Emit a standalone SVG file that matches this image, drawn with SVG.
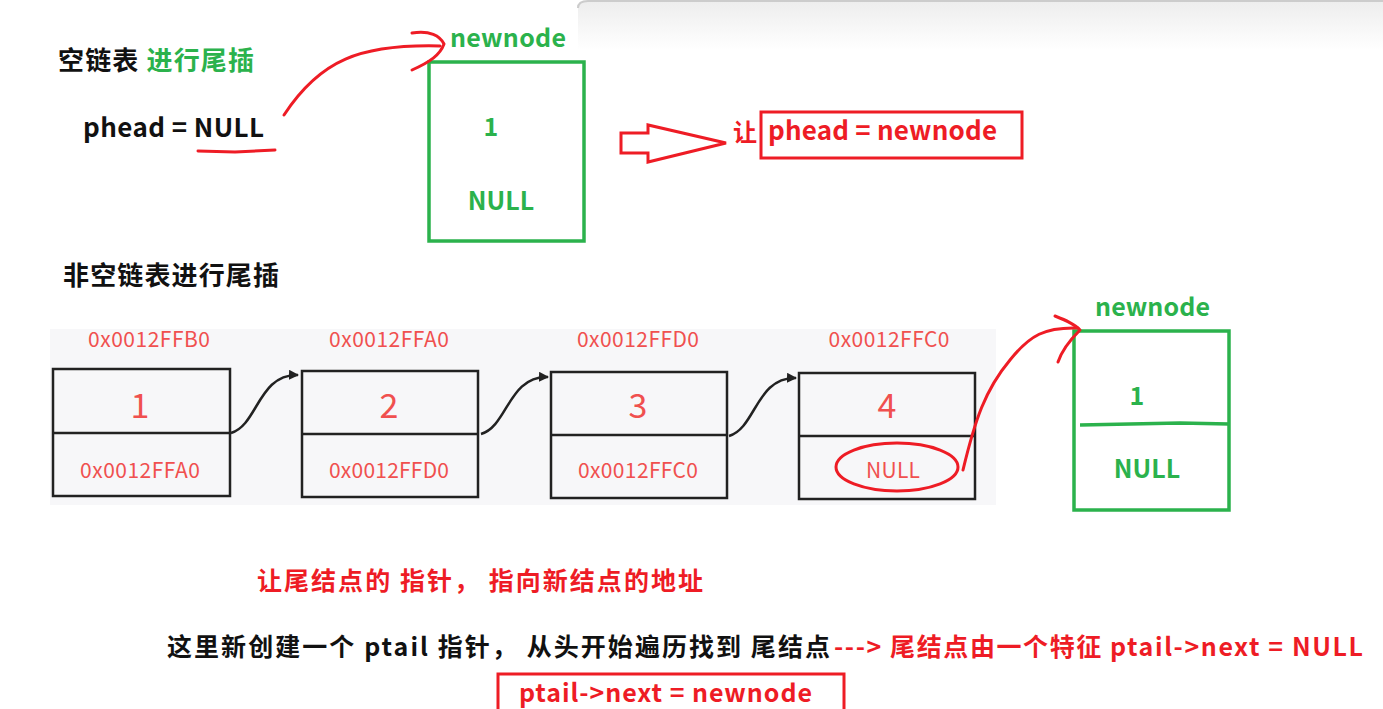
<svg xmlns="http://www.w3.org/2000/svg" width="1383" height="709" viewBox="0 0 1383 709">
<style>
.cjk{font-family:"Noto Sans CJK SC","Noto Sans",sans-serif;font-weight:bold}
.blk{fill:#111}
.grn{fill:#2bb24c}
.red{fill:#ee1c25}
.addr{font-family:"Noto Sans CJK SC","Noto Sans",sans-serif;font-size:21px;fill:#f0504f;text-anchor:middle}
.val{font-family:"Noto Sans CJK SC","Noto Sans",sans-serif;font-size:34px;fill:#f0504f;text-anchor:middle}
.node{fill:none;stroke:#222;stroke-width:2.5}
.gbox{fill:none;stroke:#2bb24c;stroke-width:3.5}
.rline{fill:none;stroke:#ee1c25;stroke-width:3;stroke-linecap:round;stroke-linejoin:round}
.bline{fill:none;stroke:#222;stroke-width:2.5}
</style>
<defs>
<marker id="ah" viewBox="0 0 10 10" refX="9" refY="5" markerWidth="4" markerHeight="4" orient="auto"><path d="M0,0 L10,5 L0,10 z" fill="#222"/></marker>
<linearGradient id="topg" x1="0" y1="0" x2="0" y2="1"><stop offset="0" stop-color="#ededed"/><stop offset="1" stop-color="#ffffff"/></linearGradient>
</defs>
<rect width="1383" height="709" fill="#fff"/>
<path d="M578,50 L578,8 Q578,1 588,1 L1383,1 L1383,50 Z" fill="url(#topg)"/>
<path d="M578,8 Q578,1 588,1 L1383,1" fill="none" stroke="#cccccc" stroke-width="2"/>

<g id="title1">
<text x="58" y="70" class="cjk blk" font-size="26" textLength="196" lengthAdjust="spacing">空链表 <tspan class="grn">进行尾插</tspan></text>
</g>
<g id="phead">
<text x="83" y="137" class="cjk blk" font-size="26" textLength="181" lengthAdjust="spacing">phead = NULL</text>
</g>
<g id="newnode1">
<text x="450" y="47" class="cjk grn" font-size="25" textLength="116" lengthAdjust="spacing">newnode</text>
<rect x="429" y="62" width="155" height="179" class="gbox"/>
<text x="491" y="136" class="cjk grn" font-size="25" text-anchor="middle">1</text>
<text x="501" y="210" class="cjk grn" font-size="25" text-anchor="middle">NULL</text>
</g>
<g id="result1">
<text x="733" y="141" class="cjk red" font-size="24">让</text>
<rect x="761" y="112" width="261" height="46" fill="none" stroke="#ee1c25" stroke-width="3"/>
<text x="768" y="140" class="cjk red" font-size="26" textLength="229" lengthAdjust="spacing">phead = newnode</text>
</g>

<g id="title2">
<text x="63" y="285" class="cjk blk" font-size="26" textLength="216" lengthAdjust="spacing">非空链表进行尾插</text>
</g>
<rect x="50" y="329" width="946" height="176" fill="#f7f7f9"/>
<g id="n1">
<text x="149" y="347" class="addr" textLength="122" lengthAdjust="spacing">0x0012FFB0</text>
<rect x="53" y="369" width="177" height="127" class="node"/>
<line x1="53" y1="433" x2="230" y2="433" class="node"/>
<text x="140" y="418" class="val">1</text>
<text x="140" y="478" class="addr" textLength="120" lengthAdjust="spacing">0x0012FFA0</text>
</g>
<g id="n2">
<text x="389" y="347" class="addr" textLength="120" lengthAdjust="spacing">0x0012FFA0</text>
<rect x="302" y="371" width="176" height="126" class="node"/>
<line x1="302" y1="434" x2="478" y2="434" class="node"/>
<text x="389" y="418" class="val">2</text>
<text x="389" y="478" class="addr" textLength="120" lengthAdjust="spacing">0x0012FFD0</text>
</g>
<g id="n3">
<text x="638" y="347" class="addr" textLength="122" lengthAdjust="spacing">0x0012FFD0</text>
<rect x="551" y="372" width="176" height="126" class="node"/>
<line x1="551" y1="435" x2="727" y2="435" class="node"/>
<text x="638" y="418" class="val">3</text>
<text x="638" y="478" class="addr" textLength="120" lengthAdjust="spacing">0x0012FFC0</text>
</g>
<g id="n4">
<text x="889" y="347" class="addr" textLength="121" lengthAdjust="spacing">0x0012FFC0</text>
<rect x="799" y="373" width="176" height="126" class="node"/>
<line x1="799" y1="436" x2="975" y2="436" class="node"/>
<text x="887" y="418" class="val">4</text>
<text x="893" y="478" class="addr" textLength="54" lengthAdjust="spacing">NULL</text>
</g>
<g id="newnode2">
<text x="1095" y="316" class="cjk grn" font-size="25" textLength="115" lengthAdjust="spacing">newnode</text>
<rect x="1074" y="331" width="155" height="179" class="gbox"/>
<path d="M1080,425 L1130,424 L1180,423 L1229,424" fill="none" stroke="#2bb24c" stroke-width="3.5"/>
<text x="1137" y="405" class="cjk grn" font-size="25" text-anchor="middle">1</text>
<text x="1147" y="478" class="cjk grn" font-size="25" text-anchor="middle">NULL</text>
</g>

<g id="connectors">
<path d="M231,433 C258,425 258,374 298,375" class="bline" marker-end="url(#ah)"/>
<path d="M481,434 C508,426 508,376 548,377" class="bline" marker-end="url(#ah)"/>
<path d="M729,436 C756,428 756,377 796,378" class="bline" marker-end="url(#ah)"/>
<path d="M198,151 L235,152 L275,150" class="rline"/>
<path d="M284,115 C320,60 360,44 440,46" class="rline"/>
<path d="M412,33 C430,30 440,36 444,44 C440,55 430,62 412,70" class="rline"/>
<path d="M621,133 L648,133 L648,125 L726,143 L648,162 L648,153 L621,153 Z" fill="none" stroke="#ee1c25" stroke-width="3" stroke-linejoin="miter"/>
<ellipse cx="897" cy="467" rx="61" ry="24" fill="none" stroke="#ee1c25" stroke-width="3"/>
<path d="M963,470 C975,420 985,390 1010,360 C1030,335 1045,327 1078,328" class="rline" stroke-width="2"/>
<path d="M1055,316 C1065,320 1075,324 1080,330 C1070,340 1062,350 1058,362" class="rline" stroke-width="2"/>
</g>

<g id="notes">
<text x="257" y="590" class="cjk red" font-size="25" textLength="446" lengthAdjust="spacing">让尾结点的 指针， 指向新结点的地址</text>
<text x="167" y="656" class="cjk blk" font-size="25" textLength="663" lengthAdjust="spacing">这里新创建一个 ptail 指针， 从头开始遍历找到 尾结点</text>
<text x="834" y="656" class="cjk red" font-size="25" textLength="529" lengthAdjust="spacing">---&gt; 尾结点由一个特征 ptail-&gt;next = NULL</text>
<rect x="498" y="674" width="346" height="50" fill="none" stroke="#ee1c25" stroke-width="3"/>
<text x="519" y="702" class="cjk red" font-size="25" textLength="293" lengthAdjust="spacing">ptail-&gt;next = newnode</text>
</g>
</svg>
